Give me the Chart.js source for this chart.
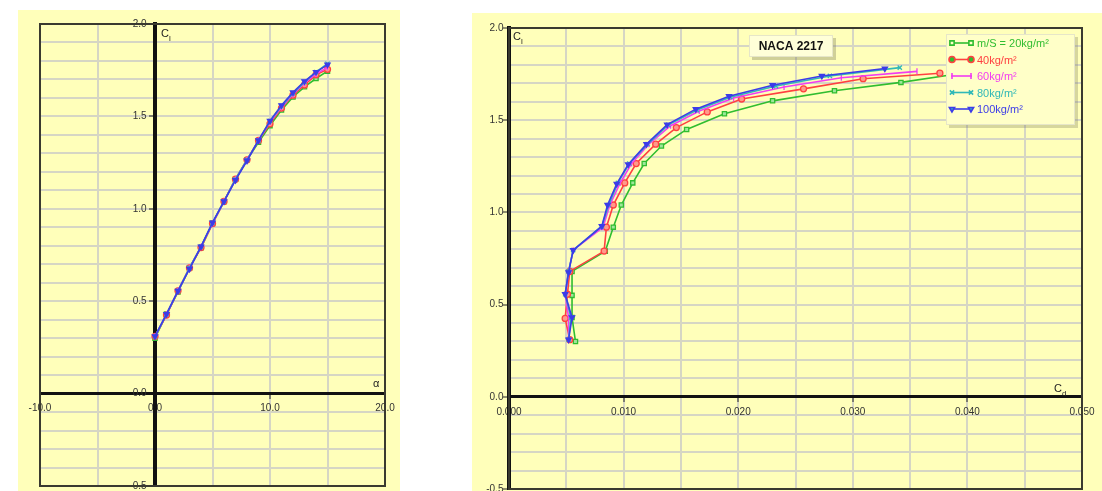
<!DOCTYPE html>
<html>
<head>
<meta charset="utf-8">
<script src="https://cdn.jsdelivr.net/npm/chart.js@4.4.1/dist/chart.umd.min.js"></script>
<style>
  body { margin: 0; background: #fff; }
  .panel { position: absolute; background: #ffffba; overflow: hidden; }
  .panel canvas { display: block; }
  #leftPanel { left: 18px; top: 10px; width: 382px; height: 481px; }
  #rightPanel { left: 472px; top: 13px; width: 630px; height: 478px; }
</style>
</head>
<body>
<div class="panel" id="leftPanel"><canvas id="alphaChart" width="382" height="487"></canvas></div>
<div class="panel" id="rightPanel"><canvas id="polarChart" width="630" height="487"></canvas></div>
<script>
// angle of attack, deg
const alpha = [0, 1, 2, 3, 4, 5, 6, 7, 8, 9, 10, 11, 12, 13, 14, 15];

// lift coefficient per wing loading
const cl20 = [0.30, 0.43, 0.55, 0.68, 0.79, 0.92, 1.04, 1.16, 1.265, 1.36, 1.45, 1.535, 1.605, 1.66, 1.705, 1.745];
const cl40 = [0.31, 0.425, 0.556, 0.68, 0.79, 0.92, 1.04, 1.16, 1.265, 1.37, 1.46, 1.545, 1.615, 1.67, 1.725, 1.755];
const cl60 = [0.31, 0.43, 0.556, 0.68, 0.795, 0.92, 1.04, 1.16, 1.265, 1.37, 1.47, 1.55, 1.62, 1.68, 1.73, 1.765];
const cl80 = [0.31, 0.43, 0.556, 0.68, 0.795, 0.925, 1.04, 1.16, 1.265, 1.37, 1.475, 1.555, 1.625, 1.685, 1.74, 1.785];
const cl100 = [0.31, 0.43, 0.556, 0.675, 0.795, 0.925, 1.04, 1.155, 1.26, 1.37, 1.476, 1.56, 1.63, 1.69, 1.74, 1.78];

// drag coefficient per wing loading
const cd20 = [0.0058, 0.0055, 0.0055, 0.0055, 0.0084, 0.0091, 0.0098, 0.0108, 0.0118, 0.0133, 0.0155, 0.0188, 0.0230, 0.0284, 0.0342, 0.0385];
const cd40 = [0.0053, 0.0049, 0.0051, 0.0053, 0.0083, 0.0085, 0.0091, 0.0101, 0.0111, 0.0128, 0.0146, 0.0173, 0.0203, 0.0257, 0.0309, 0.0376];
const cd60 = [0.0052, 0.0052, 0.0049, 0.0052, 0.0056, 0.0082, 0.0088, 0.0097, 0.0107, 0.0122, 0.0141, 0.0166, 0.0196, 0.0240, 0.0290, 0.0356];
const cd80 = [0.0052, 0.0054, 0.0049, 0.0052, 0.0056, 0.0081, 0.0087, 0.0095, 0.0105, 0.0121, 0.0139, 0.0164, 0.0193, 0.0233, 0.0280, 0.0341];
const cd100 = [0.0052, 0.0055, 0.0049, 0.0052, 0.0056, 0.0081, 0.0086, 0.0094, 0.0104, 0.0120, 0.0138, 0.0163, 0.0192, 0.0230, 0.0273, 0.0328];

const seriesNames = ["m/S = 20kg/m²", "40kg/m²", "60kg/m²", "80kg/m²", "100kg/m²"];
const chartTitle = "NACA 2217";

const liftSets = [cl20, cl40, cl60, cl80, cl100];
const dragSets = [cd20, cd40, cd60, cd80, cd100];

const colors = ["#30bd30", "#ff4040", "#f23cf2", "#30b8b8", "#3c3ce8"];
const fills = ["#9ee69a", "#ff9a8a", "#f23cf2", "#30b8b8", "#3c3ce8"];
const markers = ["rect", "circle", "line", "crossRot", "triangle"];
const markerTurn = [0, 0, 90, 0, 180];

const font = { family: '"Liberation Sans", Arial, sans-serif', size: 10 };
const gridColor = "#d6d6c4";

const makeSets = (xSets) => seriesNames.map((name, i) => ({
  label: name,
  data: xSets[i].map((x, j) => ({ x: x, y: liftSets[i][j] })),
  borderColor: colors[i],
  backgroundColor: fills[i],
  pointBorderColor: colors[i],
  pointBackgroundColor: fills[i],
  pointStyle: markers[i],
  rotation: markerTurn[i],
  pointRadius: 3,
  pointBorderWidth: 1.3,
  borderWidth: 1.6,
  showLine: true,
  tension: 0,
  order: 4 - i
}));

const frame = {
  id: "frame",
  beforeDatasetsDraw(chart) {
    const { ctx, chartArea: a } = chart;
    ctx.save();
    ctx.strokeStyle = "#3a3a30";
    ctx.lineWidth = 2;
    ctx.strokeRect(a.left, a.top, a.right - a.left, a.bottom - a.top);
    ctx.restore();
  }
};

const drawName = (ctx, text, sub, x, y) => {
  ctx.font = '11px "Liberation Sans", Arial, sans-serif';
  ctx.fillText(text, x, y);
  if (sub) {
    const w = ctx.measureText(text).width;
    ctx.font = '8px "Liberation Sans", Arial, sans-serif';
    ctx.fillText(sub, x + w, y + 4);
  }
};

const alphaNames = {
  id: "alphaNames",
  afterDraw(chart) {
    const { ctx, chartArea: a, scales } = chart;
    const x0 = scales.x.getPixelForValue(0);
    const y0 = scales.y.getPixelForValue(0);
    ctx.save();
    ctx.fillStyle = "#222";
    drawName(ctx, "C", "l", x0 + 6, a.top + 13);
    drawName(ctx, "α", "", a.right - 12, y0 - 7);
    ctx.restore();
  }
};

const polarNames = {
  id: "polarNames",
  afterDatasetsDraw(chart) {
    const { ctx, chartArea: a, scales } = chart;
    const y0 = scales.y.getPixelForValue(0);
    ctx.save();
    ctx.fillStyle = "#222";
    drawName(ctx, "C", "l", a.left + 4, a.top + 12);
    drawName(ctx, "C", "d", a.right - 28, y0 - 5);

    // title box
    const tx = a.left + 240, ty = a.top + 7, tw = 84, th = 22;
    ctx.fillStyle = "rgba(120,120,90,0.35)";
    ctx.fillRect(tx + 3, ty + 3, tw, th);
    ctx.fillStyle = "#ffffd8";
    ctx.fillRect(tx, ty, tw, th);
    ctx.strokeStyle = "#e6e6c8";
    ctx.lineWidth = 1;
    ctx.strokeRect(tx + 0.5, ty + 0.5, tw - 1, th - 1);
    ctx.fillStyle = "#111";
    ctx.font = 'bold 12px "Liberation Sans", Arial, sans-serif';
    ctx.textAlign = "center";
    ctx.textBaseline = "middle";
    ctx.fillText(chartTitle, tx + tw / 2, ty + th / 2 + 1);

    // legend box
    const lx = a.right - 136, ly = a.top + 6, lw = 129, lh = 91;
    ctx.fillStyle = "rgba(120,120,90,0.3)";
    ctx.fillRect(lx + 3, ly + 3, lw, lh);
    ctx.fillStyle = "#ffffc8";
    ctx.fillRect(lx, ly, lw, lh);
    ctx.strokeStyle = "#e6e6c8";
    ctx.strokeRect(lx + 0.5, ly + 0.5, lw - 1, lh - 1);
    ctx.textAlign = "left";
    ctx.font = '11px "Liberation Sans", Arial, sans-serif';
    chart.data.datasets.forEach((ds, i) => {
      const y = ly + 9 + i * 16.5;
      ctx.strokeStyle = colors[i];
      ctx.lineWidth = 1.6;
      ctx.beginPath();
      ctx.moveTo(lx + 5, y);
      ctx.lineTo(lx + 26, y);
      ctx.stroke();
      [lx + 6, lx + 25].forEach(px => {
        Chart.helpers.drawPoint(ctx, {
          pointStyle: markers[i], rotation: markerTurn[i], radius: 3, borderWidth: 1.3
        }, px, y);
      });
      ctx.fillStyle = colors[i];
      ctx.fillText(ds.label, lx + 31, y + 1);
    });
    ctx.restore();
  }
};

const tickMark = (ok) => (c) => (c.tick && ok(c.tick.value) ? "#222" : "rgba(0,0,0,0)");

new Chart(document.getElementById("alphaChart"), {
  type: "scatter",
  data: { datasets: makeSets(liftSets.map(() => alpha)) },
  options: {
    responsive: false,
    animation: false,
    layout: { padding: { left: 22, right: 15, top: 14, bottom: 6 } },
    plugins: { legend: { display: false }, tooltip: { enabled: false } },
    scales: {
      x: {
        type: "linear", min: -10, max: 20, position: { y: 0 },
        ticks: {
          stepSize: 5, autoSkip: false, maxRotation: 0, padding: 5, font: font, color: "#333",
          callback: (v) => (Math.round(v) % 10 === 0 ? v.toFixed(1) : "")
        },
        grid: { color: gridColor, lineWidth: 2, tickLength: 4, tickWidth: 1, tickColor: tickMark(v => Math.round(v) % 10 === 0) },
        border: { color: "#111", width: 3 }
      },
      y: {
        type: "linear", min: -0.5, max: 2.0, position: { x: 0 },
        ticks: {
          stepSize: 0.1, autoSkip: false, padding: 5, font: font, color: "#333",
          callback: (v) => (Math.round(v * 10) % 5 === 0 ? v.toFixed(1) + "   " : "")
        },
        grid: { color: gridColor, lineWidth: 2, tickLength: 4, tickWidth: 1, tickColor: tickMark(v => Math.round(v * 10) % 5 === 0) },
        border: { color: "#111", width: 4 }
      }
    }
  },
  plugins: [frame, alphaNames]
});

new Chart(document.getElementById("polarChart"), {
  type: "scatter",
  data: { datasets: makeSets(dragSets) },
  options: {
    responsive: false,
    animation: false,
    layout: { padding: { left: 37, right: 20, top: 15, bottom: 4 } },
    plugins: { legend: { display: false }, tooltip: { enabled: false } },
    scales: {
      x: {
        type: "linear", min: 0, max: 0.05, position: { y: 0 },
        ticks: {
          stepSize: 0.005, autoSkip: false, maxRotation: 0, padding: 5, font: font, color: "#333",
          callback: (v) => (Math.round(v * 1000) % 10 === 0 ? v.toFixed(3) : "")
        },
        grid: { color: gridColor, lineWidth: 2, tickLength: 4, tickWidth: 1, tickColor: tickMark(v => Math.round(v * 1000) % 10 === 0) },
        border: { color: "#111", width: 3 }
      },
      y: {
        type: "linear", min: -0.5, max: 2.0, position: { x: 0 },
        ticks: {
          stepSize: 0.1, autoSkip: false, padding: 5, font: font, color: "#333",
          callback: (v) => (Math.round(v * 10) % 5 === 0 ? v.toFixed(1) + "  " : "")
        },
        grid: { color: gridColor, lineWidth: 2, tickLength: 4, tickWidth: 1, tickColor: tickMark(v => Math.round(v * 10) % 5 === 0) },
        border: { color: "#111", width: 4 }
      }
    }
  },
  plugins: [frame, polarNames]
});
</script>
</body>
</html>
